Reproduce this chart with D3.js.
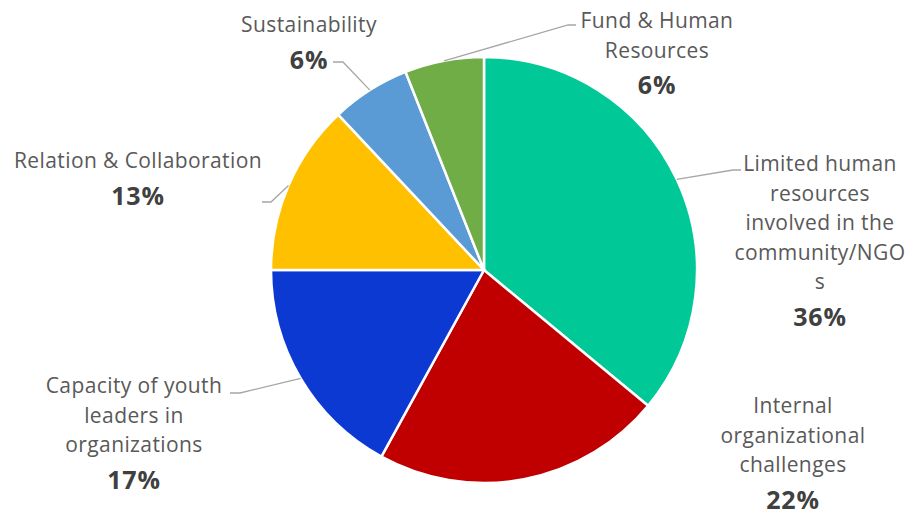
<!DOCTYPE html>
<html>
<head>
<meta charset="utf-8">
<script src="https://cdn.jsdelivr.net/npm/d3@7"></script>
<style>
  html, body { margin: 0; padding: 0; background: #ffffff; }
  svg { display: block; }
  .lbl { font-family: "Open Sans", "Noto Sans", sans-serif; font-size: 21px; letter-spacing: 0.4px; fill: #595959; }
  .pct { font-family: "Open Sans", "Noto Sans", sans-serif; font-size: 25px; font-weight: 700; letter-spacing: 0.8px; fill: #404040; }
</style>
</head>
<body>
<svg id="chart" width="912" height="510"></svg>
<script>
// Slices, clockwise from 12 o'clock
const categories = [
  "Limited human resources involved in the community/NGOs",
  "Internal organizational challenges",
  "Capacity of youth leaders in organizations",
  "Relation & Collaboration",
  "Sustainability",
  "Fund & Human Resources"
];
const values = [36, 22, 17, 13, 6, 6];
const percentLabels = ["36%", "22%", "17%", "13%", "6%", "6%"];
// Wrapped label lines as shown next to each slice
const labelLines = [
  ["Limited human", "resources", "involved in the", "community/NGO", "s"],
  ["Internal", "organizational", "challenges"],
  ["Capacity of youth", "leaders in", "organizations"],
  ["Relation & Collaboration"],
  ["Sustainability"],
  ["Fund & Human", "Resources"]
];
const colors = ["#00C896", "#C00000", "#0D39D3", "#FFC000", "#5B9BD5", "#70AD47"];

// Layout: label centre x / first baseline y, and leader line path (label end, elbow)
const labelPos = [
  { x: 820, y: 171, leader: [[741, 170], [733, 170]] },
  { x: 793, y: 413, leader: null },
  { x: 134, y: 393, leader: [[230, 393], [240, 393]] },
  { x: 138, y: 168, leader: [[262, 202], [271, 202]] },
  { x: 309, y: 32,  leader: [[333, 62], [343, 62]] },
  { x: 657, y: 28,  leader: [[576, 25], [568, 25]] }
];

const cx = 484, cy = 270, radius = 213;
const lineStep = 29.5, pctGap = 36.5;

const svg = d3.select("#chart");
const g = svg.append("g").attr("transform", `translate(${cx},${cy})`);

const pie = d3.pie().sort(null).value(d => d);
const arcs = pie(values);
const arc = d3.arc().innerRadius(0).outerRadius(radius);
const edgeArc = d3.arc().innerRadius(radius).outerRadius(radius);

g.selectAll("path.slice")
  .data(arcs)
  .join("path")
  .attr("class", "slice")
  .attr("d", arc)
  .attr("fill", (d, i) => colors[i])
  .attr("stroke", "#ffffff")
  .attr("stroke-width", 2.5)
  .attr("stroke-linejoin", "round");

// Leader lines from slice edge midpoints to the labels
arcs.forEach((d, i) => {
  const lp = labelPos[i];
  if (!lp.leader) return;
  const [ex, ey] = edgeArc.centroid(d);
  const pts = [lp.leader[0], lp.leader[1], [ex + cx, ey + cy]];
  svg.append("path")
    .attr("d", d3.line()(pts))
    .attr("fill", "none")
    .attr("stroke", "#A6A6A6")
    .attr("stroke-width", 1.3);
});

// Category labels and percentages
arcs.forEach((d, i) => {
  const lp = labelPos[i];
  const lines = labelLines[i];
  const t = svg.append("text").attr("class", "lbl").attr("text-anchor", "middle");
  lines.forEach((ln, k) => {
    t.append("tspan").attr("x", lp.x).attr("y", lp.y + k * lineStep).text(ln);
  });
  svg.append("text")
    .attr("class", "pct")
    .attr("text-anchor", "middle")
    .attr("x", lp.x)
    .attr("y", lp.y + (lines.length - 1) * lineStep + pctGap)
    .text(percentLabels[i]);
});
</script>
</body>
</html>
